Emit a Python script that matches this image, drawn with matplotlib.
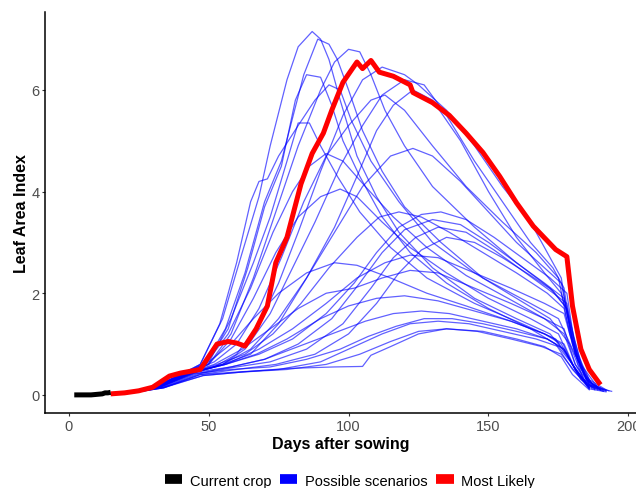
import matplotlib
matplotlib.use("Agg")
from matplotlib import pyplot as plt
from matplotlib.lines import Line2D

plt.rcParams['font.family'] = ['Liberation Sans', 'DejaVu Sans']

# current crop (observed so far)
current_days = [2, 4, 6, 8, 10, 12, 13, 14, 15]
current_lai = [0.0, 0.0, 0.0, 0.0, 0.01, 0.02, 0.04, 0.04, 0.05]

# most likely scenario
likely_days = [15, 20, 25, 30, 36, 40, 47, 50, 53, 57, 60, 63, 67, 71, 74, 78, 83, 87, 91,
               94, 98, 103, 105, 108, 111, 116, 122, 123, 130, 136, 142, 148, 154, 160,
               166, 174, 178, 180, 183, 186, 190]
likely_lai = [0.02, 0.04, 0.08, 0.15, 0.37, 0.43, 0.5, 0.75, 1.0, 1.05, 1.02, 0.96, 1.3,
              1.75, 2.6, 3.1, 4.15, 4.75, 5.15, 5.6, 6.15, 6.55, 6.42, 6.58, 6.35, 6.27,
              6.1, 5.95, 5.75, 5.5, 5.15, 4.77, 4.3, 3.78, 3.32, 2.86, 2.72, 1.75, 0.9,
              0.5, 0.2]

# possible scenarios (day, LAI)
s01 = [(17, 0.02), (30, 0.15), (40, 0.4), (47, 0.6), (55, 1.5), (62, 2.8), (68, 3.9), (72, 4.9),
       (78, 6.2), (82, 6.85), (87, 7.15), (90, 7.0), (93, 6.6), (97, 5.8), (103, 4.7), (110, 3.9),
       (118, 3.2), (130, 2.5), (145, 1.9), (160, 1.5), (172, 1.2), (178, 0.8), (183, 0.3), (188, 0.12)]
s02 = [(18, 0.02), (30, 0.14), (40, 0.38), (48, 0.55), (56, 1.3), (63, 2.4), (70, 3.8), (76, 4.6),
       (84, 6.3), (89, 7.0), (93, 6.9), (96, 6.6), (100, 6.0), (105, 5.2), (112, 4.4), (120, 3.7),
       (133, 3.0), (148, 2.3), (165, 1.8), (175, 1.5), (180, 0.9), (185, 0.3), (190, 0.1)]
s03 = [(18, 0.02), (30, 0.13), (42, 0.4), (50, 0.6), (58, 1.2), (66, 2.3), (74, 3.6), (82, 4.9),
       (90, 6.0), (95, 6.55), (100, 6.8), (104, 6.75), (108, 6.3), (113, 5.6), (120, 4.9),
       (130, 4.1), (145, 3.3), (160, 2.6), (172, 2.1), (178, 1.7), (183, 0.6), (189, 0.15)]
s04 = [(18, 0.02), (30, 0.14), (41, 0.42), (49, 0.6), (57, 1.3), (64, 2.5), (70, 3.7), (76, 4.5),
       (81, 5.8), (85, 6.3), (90, 6.25), (94, 5.7), (98, 5.0), (104, 4.3), (112, 3.5), (122, 2.8),
       (135, 2.2), (150, 1.7), (165, 1.3), (174, 1.0), (180, 0.5), (186, 0.15)]
s05 = [(18, 0.02), (30, 0.13), (42, 0.42), (50, 0.62), (58, 1.5), (66, 2.6), (72, 3.5), (78, 4.6),
       (82, 5.35), (86, 5.35), (90, 4.9), (96, 4.3), (104, 3.6), (115, 2.9), (128, 2.3),
       (145, 1.8), (162, 1.4), (174, 1.1), (180, 0.6), (186, 0.15)]
s06 = [(18, 0.02), (30, 0.14), (40, 0.4), (47, 0.6), (54, 1.4), (60, 2.6), (65, 3.8), (68, 4.2),
       (71, 4.25), (75, 4.7), (82, 5.3), (88, 5.8), (93, 6.1), (97, 6.0), (101, 5.4), (108, 4.6),
       (118, 3.8), (130, 3.0), (145, 2.4), (160, 1.9), (172, 1.5), (179, 1.0), (184, 0.3), (189, 0.1)]
s07 = [(18, 0.02), (30, 0.12), (42, 0.4), (52, 0.55), (60, 0.8), (68, 1.4), (75, 2.2), (82, 3.2),
       (90, 4.4), (98, 5.5), (105, 6.2), (112, 6.45), (120, 6.3), (125, 6.1), (135, 5.6),
       (145, 4.9), (155, 4.1), (165, 3.4), (172, 2.7), (176, 2.3), (179, 1.3), (183, 0.5), (188, 0.12)]
s08 = [(19, 0.02), (32, 0.15), (44, 0.42), (55, 0.6), (63, 0.9), (72, 1.6), (80, 2.5), (88, 3.4),
       (97, 4.5), (105, 5.3), (112, 5.9), (120, 6.2), (127, 6.1), (135, 5.5), (145, 4.6),
       (155, 3.8), (165, 3.0), (173, 2.5), (177, 2.1), (180, 1.0), (185, 0.3), (190, 0.1)]
s09 = [(18, 0.02), (31, 0.14), (43, 0.45), (52, 0.65), (60, 1.0), (68, 1.7), (76, 2.7), (84, 3.8),
       (92, 4.7), (100, 5.3), (108, 5.8), (113, 5.9), (120, 5.6), (130, 4.9), (142, 4.1),
       (155, 3.4), (167, 2.8), (175, 2.3), (179, 1.2), (184, 0.4), (189, 0.12)]
s10 = [(19, 0.02), (32, 0.15), (45, 0.45), (55, 0.6), (65, 0.8), (75, 1.4), (85, 2.3), (95, 3.3),
       (103, 4.3), (110, 5.2), (116, 5.7), (123, 6.0), (130, 5.8), (140, 5.0), (150, 4.0),
       (160, 3.1), (170, 2.4), (176, 2.0), (180, 1.2), (185, 0.3), (191, 0.1)]
s11 = [(19, 0.02), (32, 0.15), (44, 0.45), (55, 0.6), (65, 0.9), (75, 1.5), (85, 2.3), (95, 3.2),
       (105, 4.1), (115, 4.7), (123, 4.85), (130, 4.7), (140, 4.2), (150, 3.6), (160, 3.0),
       (170, 2.5), (176, 2.2), (180, 1.1), (185, 0.3), (190, 0.1)]
s12 = [(18, 0.02), (30, 0.13), (42, 0.4), (50, 0.6), (58, 1.1), (66, 1.9), (74, 2.8), (82, 3.5),
       (90, 3.9), (97, 4.05), (103, 3.9), (112, 3.4), (122, 2.9), (135, 2.4), (150, 1.9),
       (165, 1.5), (175, 1.2), (180, 0.6), (186, 0.15)]
s13 = [(19, 0.02), (32, 0.14), (45, 0.45), (56, 0.6), (68, 0.8), (80, 1.1), (92, 1.6), (102, 2.2),
       (110, 2.8), (118, 3.3), (126, 3.55), (133, 3.6), (142, 3.45), (152, 3.1), (162, 2.7),
       (172, 2.3), (178, 2.0), (181, 0.9), (186, 0.3), (192, 0.1)]
s14 = [(20, 0.02), (33, 0.15), (46, 0.45), (58, 0.55), (70, 0.7), (82, 1.0), (94, 1.5), (104, 2.2),
       (112, 2.8), (120, 3.25), (130, 3.45), (140, 3.35), (150, 3.0), (160, 2.6), (170, 2.2),
       (177, 1.9), (181, 0.8), (186, 0.25), (192, 0.08)]
s15 = [(20, 0.02), (34, 0.15), (47, 0.42), (60, 0.55), (72, 0.65), (85, 0.9), (98, 1.4), (108, 2.1),
       (116, 2.7), (124, 3.1), (132, 3.3), (142, 3.2), (152, 2.85), (162, 2.45), (172, 2.05),
       (178, 1.8), (182, 0.7), (187, 0.2), (193, 0.08)]
s16 = [(19, 0.02), (31, 0.14), (43, 0.42), (53, 0.6), (63, 0.8), (73, 1.2), (83, 1.8), (93, 2.5),
       (103, 3.1), (111, 3.5), (118, 3.6), (126, 3.5), (136, 3.2), (148, 2.8), (160, 2.4),
       (171, 2.0), (177, 1.7), (181, 0.8), (186, 0.2), (191, 0.08)]
s17 = [(20, 0.02), (34, 0.14), (47, 0.4), (60, 0.5), (74, 0.6), (88, 0.8), (100, 1.2), (110, 1.8),
       (118, 2.4), (126, 2.85), (135, 3.1), (145, 3.0), (155, 2.7), (165, 2.35), (173, 2.05),
       (178, 1.7), (182, 0.6), (188, 0.15), (194, 0.07)]
s18 = [(19, 0.02), (32, 0.14), (45, 0.45), (56, 0.6), (68, 0.9), (80, 1.3), (92, 1.8), (103, 2.3),
       (113, 2.6), (122, 2.75), (132, 2.7), (145, 2.4), (158, 2.1), (170, 1.8), (177, 1.6),
       (181, 0.8), (186, 0.2), (192, 0.08)]
s19 = [(18, 0.02), (30, 0.13), (42, 0.42), (52, 0.6), (62, 0.9), (72, 1.3), (82, 1.7), (92, 2.0),
       (102, 2.1), (112, 2.3), (122, 2.45), (132, 2.4), (145, 2.1), (158, 1.8), (170, 1.5),
       (177, 1.3), (181, 0.6), (187, 0.15)]
s20 = [(18, 0.02), (30, 0.14), (42, 0.45), (50, 0.65), (58, 1.0), (66, 1.5), (75, 2.0), (85, 2.4),
       (95, 2.6), (103, 2.55), (115, 2.3), (128, 2.0), (142, 1.75), (158, 1.45), (170, 1.2),
       (177, 1.0), (181, 0.5), (187, 0.12)]
s21 = [(19, 0.02), (32, 0.14), (45, 0.42), (58, 0.5), (72, 0.55), (85, 0.7), (97, 0.9), (107, 1.15),
       (117, 1.35), (127, 1.5), (137, 1.5), (148, 1.4), (160, 1.25), (171, 1.1), (177, 0.9),
       (182, 0.4), (188, 0.1)]
s22 = [(20, 0.02), (34, 0.14), (47, 0.4), (60, 0.45), (75, 0.5), (90, 0.65), (102, 0.95), (112, 1.2),
       (122, 1.4), (132, 1.45), (143, 1.4), (155, 1.25), (167, 1.1), (175, 0.95), (180, 0.6),
       (185, 0.2), (191, 0.07)]
s23 = [(19, 0.02), (33, 0.14), (46, 0.42), (58, 0.55), (70, 0.7), (82, 0.95), (94, 1.2), (106, 1.45),
       (116, 1.6), (126, 1.65), (136, 1.6), (148, 1.45), (160, 1.3), (171, 1.1), (177, 0.9),
       (181, 0.5), (186, 0.12)]
s24 = [(20, 0.02), (34, 0.15), (48, 0.38), (62, 0.45), (78, 0.5), (92, 0.6), (104, 0.8), (115, 1.05),
       (125, 1.25), (135, 1.3), (146, 1.25), (158, 1.1), (169, 0.95), (176, 0.8), (181, 0.45),
       (186, 0.12), (192, 0.06)]
s25 = [(20, 0.02), (34, 0.14), (48, 0.38), (62, 0.45), (78, 0.52), (95, 0.55), (105, 0.56),
       (108, 0.78), (115, 0.95), (125, 1.2), (135, 1.3), (148, 1.25), (160, 1.1), (170, 0.95),
       (176, 0.75), (180, 0.4), (186, 0.1)]
s26 = [(19, 0.02), (32, 0.14), (45, 0.45), (56, 0.6), (67, 0.8), (78, 1.1), (90, 1.5), (100, 1.75),
       (110, 1.9), (120, 1.95), (132, 1.85), (145, 1.65), (158, 1.45), (170, 1.2), (176, 1.0),
       (181, 0.5), (186, 0.12)]
s27 = [(18, 0.02), (30, 0.13), (41, 0.42), (49, 0.62), (57, 1.2), (65, 2.1), (73, 3.2), (80, 4.0),
       (86, 4.5), (92, 4.75), (98, 4.6), (106, 4.1), (116, 3.5), (128, 2.9), (142, 2.35),
       (157, 1.9), (170, 1.5), (177, 1.2), (181, 0.6), (186, 0.15)]

scenarios = [s01, s02, s03, s04, s05, s06, s07, s08, s09, s10, s11, s12, s13, s14,
             s15, s16, s17, s18, s19, s20, s21, s22, s23, s24, s25, s26, s27]

legend_labels = ["Current crop", "Possible scenarios", "Most Likely"]
legend_colors = ["black", "blue", "red"]

fig = plt.figure(figsize=(6.36, 4.89), dpi=100)
ax = fig.add_axes([0.071, 0.153, 0.929, 0.82])

for s in scenarios:
    d = [p[0] for p in s]
    v = [p[1] for p in s]
    ax.plot(d, v, color="blue", alpha=0.62, lw=0.9)

ax.plot(likely_days, likely_lai, color="red", lw=3.6, solid_capstyle="butt")
ax.plot(current_days, current_lai, color="black", lw=3.6, solid_capstyle="butt")

ax.set_xlim(-8.4, 202.7)
ax.set_ylim(-0.36, 7.53)
ax.set_xticks([0, 50, 100, 150, 200])
ax.set_yticks([0, 2, 4, 6])
ax.spines["top"].set_visible(False)
ax.spines["right"].set_visible(False)
ax.spines["left"].set_linewidth(1.1)
ax.spines["bottom"].set_linewidth(1.1)
ax.tick_params(colors="#333333", labelcolor="#4d4d4d", labelsize=10.5, length=2.5, pad=1.5)

ax.set_xlabel("Days after sowing", fontsize=11.5, fontweight="bold", labelpad=2)
ax.set_ylabel("Leaf Area Index", fontsize=11.5, fontweight="bold", labelpad=1.5)

handles = [Line2D([0], [0], color=c, lw=7, solid_capstyle="butt") for c in legend_colors]
fig.legend(handles, legend_labels, loc="lower center", bbox_to_anchor=(0.55, -0.026),
           ncol=3, frameon=False, fontsize=10.5, handlelength=1.2, handletextpad=0.5,
           columnspacing=0.6)

fig.savefig("out.png", dpi=100)
